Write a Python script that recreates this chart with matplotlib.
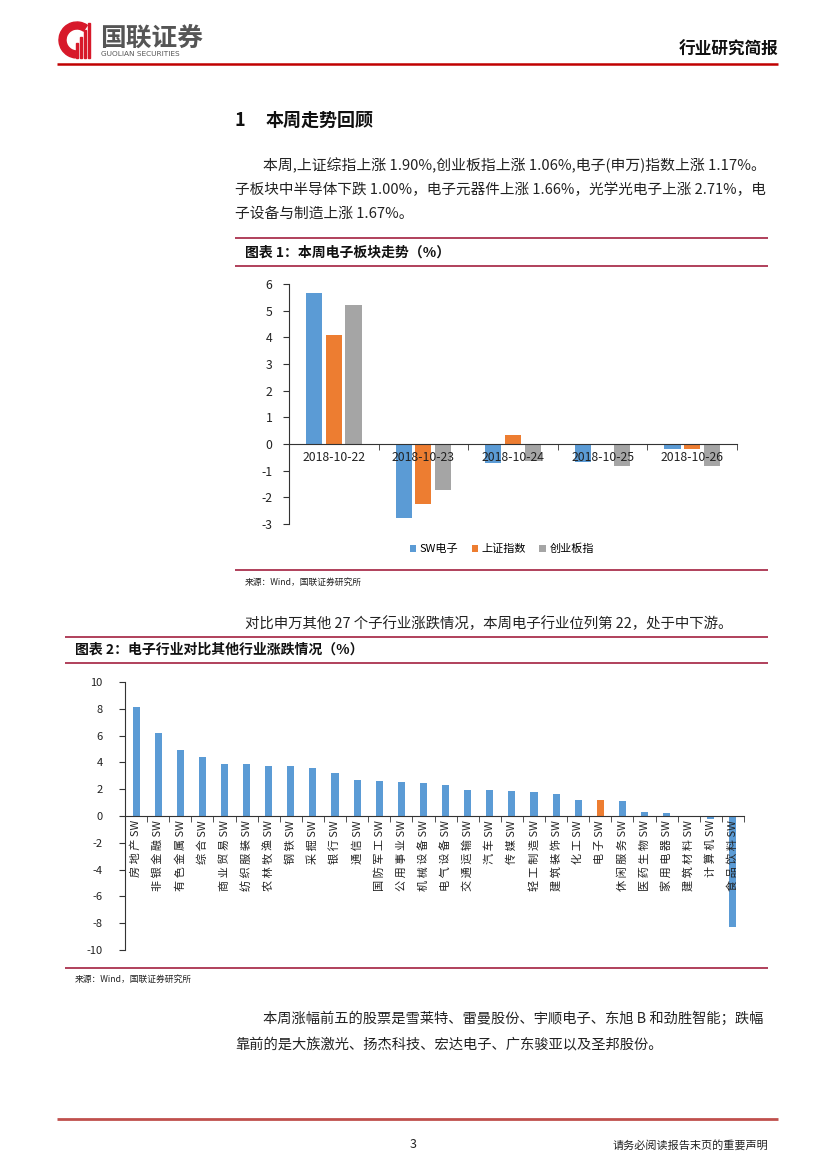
import matplotlib
matplotlib.use('Agg')
import matplotlib.pyplot as plt
from matplotlib.patches import Wedge, Rectangle
import numpy as np

plt.rcParams['font.family'] = ['Noto Sans CJK SC', 'DejaVu Sans']
plt.rcParams['axes.unicode_minus'] = False

# chart 1 data: daily change (%)
dates = ['2018-10-22', '2018-10-23', '2018-10-24', '2018-10-25', '2018-10-26']
sw_dianzi = [5.68, -2.79, -0.70, -0.69, -0.17]
shangzheng = [4.09, -2.26, 0.34, -0.01, -0.18]
chuangye = [5.21, -1.74, -0.62, -0.81, -0.81]
series_names = ['SW电子', '上证指数', '创业板指']

# chart 2 data: weekly change by SW industry (%)
industries = ['房地产', '非银金融', '有色金属', '综合', '商业贸易', '纺织服装', '农林牧渔',
              '钢铁', '采掘', '银行', '通信', '国防军工', '公用事业', '机械设备',
              '电气设备', '交通运输', '汽车', '传媒', '轻工制造', '建筑装饰', '化工',
              '电子', '休闲服务', '医药生物', '家用电器', '建筑材料', '计算机', '食品饮料']
ind_change = [8.11, 6.19, 4.95, 4.40, 3.91, 3.86, 3.73, 3.72, 3.58, 3.23, 2.69, 2.61,
              2.54, 2.49, 2.31, 1.97, 1.92, 1.89, 1.82, 1.67, 1.22, 1.17, 1.14, 0.27,
              0.22, -0.04, -0.25, -8.27]

BLUE = '#5B9BD5'
ORANGE = '#ED7D31'
GREY = '#A5A5A5'
RED = '#C00000'
MAROON = '#A3203F'
TXT = '#222222'

W, H = 827, 1169
fig = plt.figure(figsize=(W / 100, H / 100), dpi=100)

# page overlay in pixel coordinates
page = fig.add_axes([0, 0, 1, 1])
page.set_xlim(0, W)
page.set_ylim(H, 0)
page.axis('off')
page.set_zorder(0)


def rect(l, t, r, b):
    return [l / W, 1 - b / H, (r - l) / W, (b - t) / H]


def hline(y, x0, x1, color=MAROON, lw=1.2):
    page.plot([x0, x1], [y, y], color=color, lw=lw, solid_capstyle='butt')


# header / logo
page.add_patch(Wedge((77, 40), 18, 95, 305, width=7, color='#D7192A'))
for x, h in [(76, 15), (80, 21), (84, 28), (88, 35)]:
    page.add_patch(Rectangle((x, 58 - h), 2.3, h, color='#D7192A'))
page.text(100, 38, '国联证券', fontsize=18.5, fontweight='bold', color='#555555', va='center')
page.text(101, 54, 'GUOLIAN SECURITIES', fontsize=5.3, color='#555555', va='center',
          family='DejaVu Sans')
page.text(778, 50, '行业研究简报', fontsize=12, fontweight='bold', color='#111111',
          ha='right', va='center')
hline(64, 57, 778, color=RED, lw=1.8)

# section 1 text
page.text(235, 120, '1', fontsize=13, fontweight='bold', color='#111111', va='center')
page.text(266, 120, '本周走势回顾', fontsize=13, fontweight='bold', color='#111111', va='center')
fs = 10.6
page.text(263, 165, '本周,上证综指上涨 1.90%,创业板指上涨 1.06%,电子(申万)指数上涨 1.17%。',
          fontsize=10.7, color=TXT, va='center')
page.text(235, 190, '子板块中半导体下跌 1.00%，电子元器件上涨 1.66%，光学光电子上涨 2.71%，电',
          fontsize=10.5, color=TXT, va='center')
page.text(235, 214, '子设备与制造上涨 1.67%。', fontsize=fs, color=TXT, va='center')

# chart 1 frame
hline(238, 235, 768)
hline(266, 235, 768)
hline(570, 235, 768)
page.text(245, 253, '图表 1：本周电子板块走势（%）', fontsize=10, fontweight='bold',
          color='#111111', va='center')
page.text(245, 582, '来源：Wind，国联证券研究所', fontsize=6.3, color=TXT, va='center')

page.text(245, 624, '对比申万其他 27 个子行业涨跌情况，本周电子行业位列第 22，处于中下游。',
          fontsize=10.4, color=TXT, va='center')

# chart 2 frame
hline(637, 65, 768)
hline(663, 65, 768)
hline(968, 65, 768)
page.text(75, 650, '图表 2：电子行业对比其他行业涨跌情况（%）', fontsize=10, fontweight='bold',
          color='#111111', va='center')
page.text(75, 979, '来源：Wind，国联证券研究所', fontsize=6.3, color=TXT, va='center')

page.text(263, 1019, '本周涨幅前五的股票是雪莱特、雷曼股份、宇顺电子、东旭 B 和劲胜智能；跌幅',
          fontsize=10.25, color=TXT, va='center')
page.text(235, 1044, '靠前的是大族激光、扬杰科技、宏达电子、广东骏亚以及圣邦股份。',
          fontsize=10.25, color=TXT, va='center')

# footer
hline(1119, 57, 778, color='#C0504D', lw=2)
page.text(413, 1145, '3', fontsize=9, color=TXT, ha='center', va='center')
page.text(768, 1145, '请务必阅读报告末页的重要声明', fontsize=8, color=TXT, ha='right', va='center')

# ---- chart 1 ----
ax1 = fig.add_axes(rect(289, 284, 737, 524))
ax1.set_facecolor('none')
x = np.arange(len(dates))
bw = 0.18
step = 0.22
ax1.bar(x - step, sw_dianzi, bw, color=BLUE, label=series_names[0], zorder=1)
ax1.bar(x, shangzheng, bw, color=ORANGE, label=series_names[1], zorder=1)
ax1.bar(x + step, chuangye, bw, color=GREY, label=series_names[2], zorder=1)
ax1.set_xlim(-0.5, len(dates) - 0.5)
ax1.set_ylim(-3, 6)
ax1.set_yticks(range(-3, 7))
ax1.spines['top'].set_visible(False)
ax1.spines['right'].set_visible(False)
ax1.spines['bottom'].set_position(('data', 0))
ax1.spines['bottom'].set_color('#333333')
ax1.spines['left'].set_color('#333333')
ax1.set_xticks(x)
ax1.set_xticklabels(dates)
ax1.set_xticks(np.arange(-0.5, len(dates)), minor=True)
ax1.tick_params(axis='x', which='major', length=0, pad=5, labelsize=8.8, labelcolor=TXT)
ax1.tick_params(axis='x', which='minor', length=4, direction='out', color='#333333')
ax1.tick_params(axis='y', length=4, direction='out', labelsize=8.8, labelcolor=TXT,
                color='#333333', pad=8)
ax1.legend(loc='center', bbox_to_anchor=(0.475, -0.104), ncol=3, frameon=False,
           handlelength=0.6, handleheight=0.6, handletextpad=0.3, columnspacing=1.2,
           fontsize=8)

# ---- chart 2 ----
ax2 = fig.add_axes(rect(125, 682, 744, 950))
ax2.set_facecolor('none')
x2 = np.arange(len(industries))
colors = [ORANGE if n == '电子' else BLUE for n in industries]
ax2.bar(x2, ind_change, 0.32, color=colors, zorder=1)
ax2.set_xlim(-0.5, len(industries) - 0.5)
ax2.set_ylim(-10, 10)
ax2.set_yticks(range(-10, 11, 2))
ax2.spines['top'].set_visible(False)
ax2.spines['right'].set_visible(False)
ax2.spines['bottom'].set_position(('data', 0))
ax2.spines['bottom'].set_color('#333333')
ax2.spines['left'].set_color('#333333')
ax2.set_xticks(x2)
# the original font spaces the characters out
ax2.set_xticklabels([' '.join(n) + ' SW' for n in industries], rotation=90, va='top',
                    ha='center')
ax2.set_xticks(np.arange(-0.5, len(industries)), minor=True)
ax2.tick_params(axis='x', which='major', length=0, pad=3, labelsize=8, labelcolor=TXT)
ax2.tick_params(axis='x', which='minor', length=4, direction='out', color='#333333')
ax2.tick_params(axis='y', length=4, direction='out', labelsize=8, labelcolor=TXT,
                color='#333333', pad=12)

fig.savefig('out.png', dpi=100)
